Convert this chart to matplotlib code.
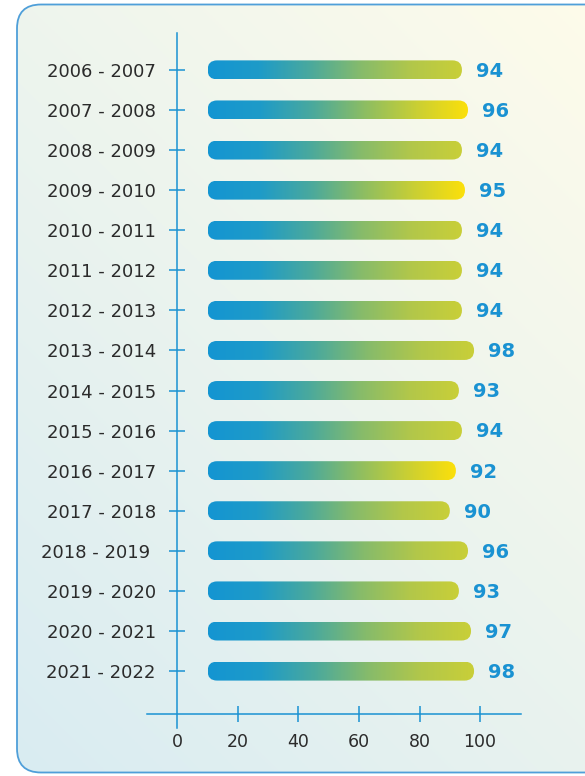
import matplotlib
matplotlib.use("Agg")
import matplotlib.pyplot as plt
import numpy as np
from matplotlib.colors import LinearSegmentedColormap, to_rgb
from matplotlib.patches import FancyBboxPatch

seasons = ["2006 - 2007", "2007 - 2008", "2008 - 2009", "2009 - 2010",
           "2010 - 2011", "2011 - 2012", "2012 - 2013", "2013 - 2014",
           "2014 - 2015", "2015 - 2016", "2016 - 2017", "2017 - 2018",
           "2018 - 2019 ", "2019 - 2020", "2020 - 2021", "2021 - 2022"]
values = [94, 96, 94, 95, 94, 94, 94, 98, 93, 94, 92, 90, 96, 93, 97, 98]
yellow_end = ["2007 - 2008", "2009 - 2010", "2016 - 2017"]
x_ticks = [0, 20, 40, 60, 80, 100]

W, H, DPI = 585, 776, 100
BLUE = "#1a92d2"
TEXT = "#2b2b2b"
plt.rcParams['font.family'] = ['DejaVu Sans']

fig = plt.figure(figsize=(W / DPI, H / DPI), dpi=DPI)

# background card with diagonal gradient
bg = fig.add_axes([0, 0, 1, 1], zorder=-5)
bg.set_xlim(0, W)
bg.set_ylim(H, 0)
bg.axis("off")
gx, gy = np.meshgrid(np.linspace(0, 1, 200), np.linspace(0, 1, 260))
t = np.clip((gx * 0.8 - gy * 1.0 + 1.0) / 1.8, 0, 1)
c0 = np.array(to_rgb("#d9ecf2"))
c1 = np.array(to_rgb("#fffcea"))
img = c0[None, None, :] * (1 - t[..., None]) + c1[None, None, :] * t[..., None]
card = FancyBboxPatch((17, 4.5), 620, 768, boxstyle="round,pad=0,rounding_size=24",
                      facecolor="none", edgecolor="#4f9fd9", linewidth=1.3)
im = bg.imshow(img, extent=(17, 637, 772.5, 4.5), aspect="auto")
bg.add_patch(card)
im.set_clip_path(card)

# chart axes
ax = fig.add_axes([147 / W, 1 - 728 / H, 374 / W, 695 / H])
ax.patch.set_alpha(0)
xmin, xmax = -10, 113.5
ymin, ymax = len(seasons) - 1 + 1.42, -0.92
ax.set_xlim(xmin, xmax)
ax.set_ylim(ymin, ymax)

for s in ["top", "right"]:
    ax.spines[s].set_visible(False)
ax.spines["left"].set_position(("data", 0))
ax.spines["bottom"].set_position(("data", len(seasons) - 1 + 1.07))
for s in ["left", "bottom"]:
    ax.spines[s].set_color(BLUE)
    ax.spines[s].set_linewidth(1.1)

ypos = np.arange(len(seasons))
ax.set_yticks(ypos)
ax.set_yticklabels(seasons, fontsize=13, color=TEXT)
ax.set_xticks(x_ticks)
ax.set_xticklabels([str(v) for v in x_ticks], fontsize=12.5, color=TEXT)
ax.tick_params(axis="y", direction="inout", length=11, width=1.1, color=BLUE, pad=10)
ax.tick_params(axis="x", direction="inout", length=11, width=1.1, color=BLUE, pad=8)
ax.get_xticklines()[0].set_visible(False)
ax.get_xticklines()[1].set_visible(False)
for lbl in ax.get_yticklabels():
    lbl.set_va("center_baseline")

# pixel scale for circular caps
px_x = (374 / (xmax - xmin))
px_y = (695 / (ymin - ymax))
bar_h = 19 / px_y
r_x = 9.5 / px_x
aspect = (9.5 / px_y) / r_x

blue_green = LinearSegmentedColormap.from_list(
    "bg", ["#1495d2", "#1e9bc8", "#4aa99d", "#86bb6b", "#b2c74a", "#c9cf38"])
blue_yellow = LinearSegmentedColormap.from_list(
    "by", ["#1495d2", "#1e9bc8", "#4aa99d", "#8cbd63", "#c9cf34", "#fde00a"])
grad = np.linspace(0, 1, 256).reshape(1, -1)

for y, lab, v in zip(ypos, seasons, values):
    x0 = 10
    patch = FancyBboxPatch((x0, y - bar_h / 2), v - x0, bar_h,
                           boxstyle=f"round,pad=0,rounding_size={r_x}",
                           mutation_aspect=aspect, facecolor="none",
                           edgecolor="none")
    ax.add_patch(patch)
    cmap = blue_yellow if lab in yellow_end else blue_green
    g = ax.imshow(grad, cmap=cmap, extent=(x0, v, y + bar_h / 2, y - bar_h / 2),
                  aspect="auto", zorder=2)
    g.set_clip_path(patch)
    ax.annotate(str(v), (v, y), xytext=(10, -1), textcoords="offset points",
                ha="left", va="center", fontsize=14, fontweight="bold", color=BLUE)

ax.set_xlim(xmin, xmax)
ax.set_ylim(ymin, ymax)

fig.savefig("out.png", dpi=DPI)
